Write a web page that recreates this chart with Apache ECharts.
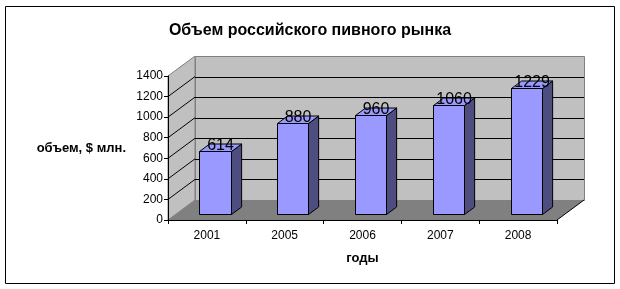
<!DOCTYPE html>
<html>
<head>
<meta charset="utf-8">
<script src="https://cdn.jsdelivr.net/npm/echarts@6/dist/echarts.min.js"></script>
<style>
html,body{margin:0;padding:0;background:#fff;}
#c{width:620px;height:289px;}
</style>
</head>
<body>
<div id="c"></div>
<script>
// ---- data ----
const years = ['2001', '2005', '2006', '2007', '2008'];
const volumes = [614, 880, 960, 1060, 1229];
const yTicks = [0, 200, 400, 600, 800, 1000, 1200, 1400];
const titleText = 'Объем российского пивного рынка';
const yName = 'объем, $ млн.';
const xName = 'годы';

// ---- 3D look (pixel offsets of the box depth) ----
const DX = 27, DY = -20;
const D0 = 0.3, D1 = 0.675, BAR_W = 0.4;
const FONT = '"Liberation Sans", Arial, sans-serif';
const r = v => Math.round(v) + 0.5;

const chart = echarts.init(document.getElementById('c'), null, {renderer: 'canvas'});

function renderWalls(params, api) {
  const cs = params.coordSys;
  const x0 = cs.x, x1 = cs.x + cs.width, yTop = cs.y, yBot = cs.y + cs.height;
  const children = [];
  children.push({type: 'polygon', shape: {points: [[x0, yBot], [x0, yTop], [x0 + DX, yTop + DY], [x0 + DX, yBot + DY]]},
    style: {fill: '#C0C0C0', stroke: '#808080', lineWidth: 1}});
  children.push({type: 'rect', shape: {x: r(x0 + DX), y: r(yTop + DY), width: Math.round(cs.width), height: Math.round(cs.height)},
    style: {fill: '#C0C0C0', stroke: '#808080', lineWidth: 1}});
  yTicks.forEach(t => {
    if (t === yTicks[0] || t === yTicks[yTicks.length - 1]) return;
    const y = api.coord([0, t])[1];
    children.push({type: 'line', shape: {x1: x0 + DX, y1: r(y + DY), x2: x1 + DX, y2: r(y + DY)}, style: {stroke: '#000', lineWidth: 1}});
    children.push({type: 'line', shape: {x1: x0, y1: y, x2: x0 + DX, y2: y + DY}, style: {stroke: '#000', lineWidth: 1}});
  });
  children.push({type: 'polygon', shape: {points: [[x0, yBot], [x1, yBot], [x1 + DX, yBot + DY], [x0 + DX, yBot + DY]]},
    style: {fill: '#808080', stroke: null}});
  children.push({type: 'line', shape: {x1: x1, y1: yBot, x2: x1 + DX, y2: yBot + DY}, style: {stroke: '#000', lineWidth: 1}});
  return {type: 'group', children: children};
}

function renderBar(params, api) {
  const i = api.value(0), v = api.value(1);
  const base = api.coord([i, 0]);
  const top = api.coord([i, v]);
  const bw = api.size([1, 0])[0] * BAR_W;
  const ox0 = DX * D0, oy0 = DY * D0;
  const ddx = DX * (D1 - D0), ddy = DY * (D1 - D0);
  const xl = r(base[0] - bw / 2 + ox0), xr = r(base[0] + bw / 2 + ox0);
  const yb = r(base[1] + oy0), yt = r(top[1] + oy0);
  const st = {stroke: '#000', lineWidth: 1};
  return {type: 'group', children: [
    {type: 'polygon', shape: {points: [[xr, yb], [xr, yt], [xr + ddx, yt + ddy], [xr + ddx, yb + ddy]]}, style: Object.assign({fill: '#4D4D80'}, st)},
    {type: 'polygon', shape: {points: [[xl, yt], [xr, yt], [xr + ddx, yt + ddy], [xl + ddx, yt + ddy]]}, style: Object.assign({fill: '#9999FF'}, st)},
    {type: 'rect', shape: {x: xl, y: yt, width: xr - xl, height: yb - yt}, style: Object.assign({fill: '#9999FF'}, st)},
    {type: 'text', x: (xl + xr) / 2 + ddx / 2, y: yt - 6, z2: 10,
      style: {text: String(v), fill: '#000', font: '16px ' + FONT, align: 'center', verticalAlign: 'middle'}}
  ]};
}

chart.setOption({
  animation: false,
  backgroundColor: '#fff',
  title: {text: titleText, left: 'center', top: 18,
    textStyle: {fontFamily: FONT, fontSize: 16, fontWeight: 'bold', color: '#000'}},
  grid: {left: 168, top: 76, width: 389, height: 144},
  xAxis: {type: 'category', data: years, boundaryGap: true, z: 10,
    name: xName, nameLocation: 'middle', nameGap: 32,
    nameTextStyle: {fontFamily: FONT, fontSize: 13, fontWeight: 'bold', color: '#000'},
    axisLine: {lineStyle: {color: '#000', width: 1}},
    axisTick: {show: true, length: 4, lineStyle: {color: '#000'}, alignWithLabel: false},
    axisLabel: {margin: 10, fontFamily: FONT, fontSize: 12, color: '#000'},
    splitLine: {show: false}},
  yAxis: {type: 'value', min: 0, max: 1400, interval: 200, z: 10,
    name: yName, nameLocation: 'middle', nameRotate: 0, nameGap: 42,
    nameTextStyle: {fontFamily: FONT, fontSize: 13, fontWeight: 'bold', color: '#000'},
    axisLine: {show: true, lineStyle: {color: '#000', width: 1}},
    axisTick: {show: true, length: 4, lineStyle: {color: '#000'}},
    axisLabel: {margin: 5, fontFamily: FONT, fontSize: 12, color: '#000', formatter: v => String(v)},
    splitLine: {show: false}},
  graphic: [{type: 'rect', shape: {x: 5.5, y: 6.5, width: 609, height: 277}, style: {fill: null, stroke: '#000', lineWidth: 1}, silent: true, z: 100}],
  series: [
    {type: 'custom', name: 'walls', renderItem: renderWalls, data: [[0, 0]], z: 1, silent: true, clip: false},
    {type: 'custom', name: 'volume', renderItem: renderBar, data: volumes.map((v, i) => [i, v]), z: 3, clip: false}
  ]
});
</script>
</body>
</html>
